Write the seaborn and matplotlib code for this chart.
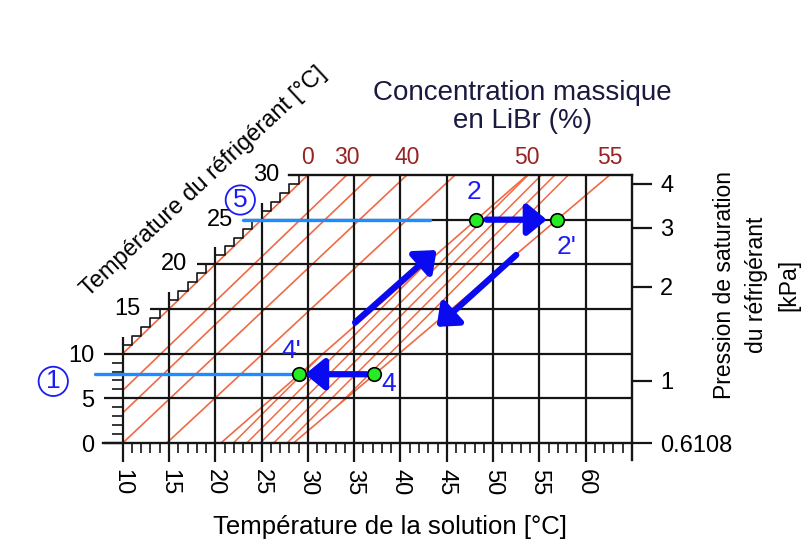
import numpy as np
import pandas as pd
import seaborn as sns
import matplotlib.pyplot as plt

# iso-concentration lines (% LiBr): solution temperature at refrigerant 0 C and 30 C
conc = [0, 30, 35, 40, 45, 50, 55]
t_sol_0 = [0.0, 4.1, 6.6, 10.0, 14.75, 20.6, 28.45]
t_sol_30 = [30.0, 34.2, 36.9, 40.7, 45.9, 53.7, 62.6]
conc_shown = [0, 30, 40, 50, 55]

# cycle states
state_names = ['2', "2'", '4', "4'"]
state_tsol = [48.2, 56.9, 37.1, 29.0]
state_tref = [25.0, 25.0, 7.7, 7.7]

# saturation pressure (right axis)
p_labels = ['0.6108', '1', '2', '3', '4']
p_tref = [0.0, 6.97, 17.5, 24.1, 29.0]

# refrigerant lines (1) and (5)
ref_names = ['1', '5']
ref_tref = [7.7, 25.0]
ref_from = [7.0, 23.0]
ref_to = [29.0, 43.2]

# process arrows
arr_x0 = [49.3, 36.3, 35.1, 52.5]
arr_y0 = [25.0, 7.7, 13.5, 21.05]
arr_x1 = [55.8, 29.7, 43.9, 43.9]
arr_y1 = [25.0, 7.7, 21.6, 13.0]

sol_ticks = [10, 15, 20, 25, 30, 35, 40, 45, 50, 55, 60]
ref_ticks = [0, 5, 10]
ref_diag_ticks = [15, 20, 25, 30]

sns.set_theme(style='white')
plt.rcParams['font.family'] = ['Liberation Sans', 'DejaVu Sans']
plt.rcParams['text.color'] = '#000000'
plt.rcParams['xtick.labelcolor'] = '#000000'
plt.rcParams['ytick.labelcolor'] = '#000000'
plt.rcParams['axes.labelcolor'] = '#000000'

RED = '#ef6a45'
INK = '#151515'
BLUE = '#1c1cf5'

fig = plt.figure(figsize=(8.1, 5.46), dpi=100)
ax = fig.add_axes([0.1515, 0.1886, 0.6287, 0.4909])
ax.set_xlim(10, 65)
ax.set_ylim(0, 30)

# concentration lines
rows = []
for c, a, b in zip(conc, t_sol_0, t_sol_30):
    rows.append({'conc': c, 't_sol': a, 't_ref': 0.0})
    rows.append({'conc': c, 't_sol': b, 't_ref': 30.0})
lines_df = pd.DataFrame(rows)
sns.lineplot(data=lines_df, x='t_sol', y='t_ref', units='conc', estimator=None,
             sort=False, color=RED, linewidth=1.2, ax=ax, legend=False)

# hatched band between the 50 % and 55 % lines
band = ax.fill_betweenx([0, 30], [t_sol_0[5], t_sol_30[5]], [t_sol_0[6], t_sol_30[6]],
                        facecolor='none', edgecolor='none')
clip = band.get_paths()[0]
for c0 in np.arange(t_sol_0[5] - 32, t_sol_0[6] + 1, 1.45):
    hl, = ax.plot([c0, c0 + 31], [0, 31 * 1.037], color=RED, lw=1.1)
    hl.set_clip_path(clip, ax.transData)

# grid, clipped at the pure-water line
gx = np.array(sol_ticks)
ax.vlines(gx, 0, np.minimum(30, gx + 1.9), color=INK, lw=1.6, clip_on=False, zorder=2)
gy = np.array([5, 10, 15, 20, 25])
ax.hlines(gy, np.where(gy > 10, gy - 2.0, 10), 65, color=INK, lw=1.6, clip_on=False, zorder=2)

# staircase ticks on the diagonal axis
k = np.arange(10, 31)
ax.step(k, k, where='pre', color=INK, lw=1.2, clip_on=False)

ax.spines['left'].set_visible(False)
for s in ['top', 'right', 'bottom']:
    ax.spines[s].set_color(INK)
    ax.spines[s].set_linewidth(1.7)
ax.spines['top'].set_bounds(28, 65)
ax.spines['right'].set_bounds(-1.9, 30)
ax.spines['bottom'].set_bounds(7.9, 65)

ax.set_xticks(sol_ticks, [str(v) for v in sol_ticks])
ax.set_xticks(np.arange(10, 66), minor=True)
ax.set_yticks(ref_ticks, [str(v) for v in ref_ticks])
ax.set_yticks(np.arange(0, 11), minor=True)
ax.tick_params(axis='x', which='major', direction='out', length=13.5, width=1.6,
               color=INK, labelsize=17, pad=5, labelrotation=270, bottom=True)
ax.tick_params(axis='x', which='minor', direction='out', length=7.5, width=1.2,
               color=INK, bottom=True)
ax.tick_params(axis='y', which='major', direction='out', length=13.5, width=1.6,
               color=INK, labelsize=17, pad=7, left=True)
ax.tick_params(axis='y', which='minor', direction='out', length=8, width=1.2,
               color=INK, left=True)

for v in ref_diag_ticks:
    ax.annotate(str(v), xy=(v - 2.0, v), xytext=(-7, 0), textcoords='offset points',
                ha='right', va='center', fontsize=17, annotation_clip=False)

# concentration labels on top
for c, b in zip(conc, t_sol_30):
    if c in conc_shown:
        ax.annotate(str(c), xy=(b, 30), xytext=(0, 4), textcoords='offset points',
                    ha='center', va='bottom', fontsize=16.5, color='#992222',
                    annotation_clip=False)

# right axis: saturation pressure
ax2 = ax.twinx()
ax2.set_ylim(0, 30)
ax2.set_yticks(p_tref, p_labels)
ax2.tick_params(axis='y', direction='out', length=14.4, width=1.6, color=INK,
                labelsize=17, pad=6, right=True)
for s in ax2.spines.values():
    s.set_visible(False)
ax2.grid(False)

# refrigerant lines and circled numbers
for name, yv, x0, x1 in zip(ref_names, ref_tref, ref_from, ref_to):
    ax.plot([x0, x1], [yv, yv], color='#1e8cff', lw=2.4, clip_on=False, zorder=3)
circ = dict(boxstyle='circle,pad=0.1', fc='white', ec=BLUE, lw=1.3)
ax.text(2.5, 6.9, ref_names[0], ha='center', va='center', fontsize=19, color=BLUE,
        bbox=circ, clip_on=False)
ax.text(22.7, 27.2, ref_names[1], ha='center', va='center', fontsize=19, color=BLUE,
        bbox=circ, clip_on=False)

# arrows
for x0, y0, x1, y1 in zip(arr_x0, arr_y0, arr_x1, arr_y1):
    ax.annotate('', xy=(x1, y1), xytext=(x0, y0),
                arrowprops=dict(arrowstyle='-|>,head_length=0.55,head_width=0.45',
                                color='#0a0af0', lw=4.5, mutation_scale=21,
                                shrinkA=0, shrinkB=0), zorder=4)

# state points
sns.scatterplot(x=state_tsol, y=state_tref, s=95, color='#22ee22', edgecolor='black',
                linewidth=1.2, zorder=5, ax=ax, clip_on=False)
offs = {'2': (-2, 20), "2'": (7, -20), '4': (11, -7), "4'": (-5, 17)}
for n, xv, yv in zip(state_names, state_tsol, state_tref):
    ax.annotate(n, xy=(xv, yv), xytext=offs[n], textcoords='offset points',
                ha='center', va='center', fontsize=19, color=BLUE)

# titles
ax.text(53.2, 37.6, 'Concentration massique\nen LiBr (%)', ha='center', va='center',
        fontsize=20, color='#1a1a40', linespacing=1.1, clip_on=False)
ax.text(78.5, 17.7, 'Pression de saturation\ndu réfrigérant\n[kPa]', rotation=90,
        ha='center', va='center', multialignment='center', fontsize=16.5,
        linespacing=1.5, clip_on=False)
ax.text(18.7, 29.2, 'Température du réfrigérant [°C]', rotation=43, ha='center',
        va='center', rotation_mode='anchor', fontsize=17, clip_on=False)
ax.set_xlabel('Température de la solution [°C]', fontsize=18.5)
ax.xaxis.set_label_coords(0.525, -0.27)
ax.set_ylabel('')

fig.savefig('out.png', dpi=100)
